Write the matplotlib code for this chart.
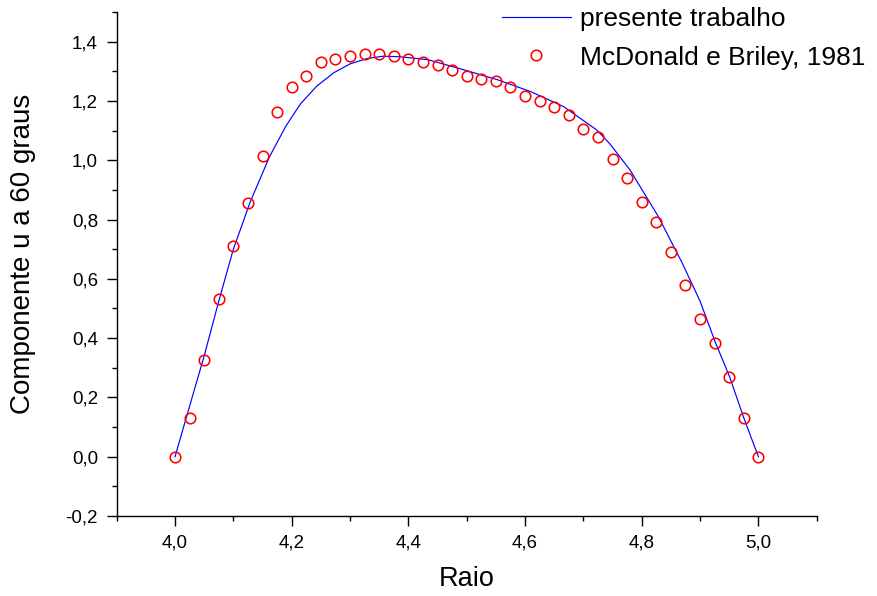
import matplotlib
matplotlib.use("Agg")
import matplotlib.pyplot as plt
from matplotlib.ticker import MultipleLocator, FuncFormatter

plt.rcParams['font.family'] = ['Liberation Sans', 'DejaVu Sans']

# Present work (blue line)
line_x = [4.000, 4.019, 4.050, 4.075, 4.100, 4.129, 4.162, 4.190, 4.215, 4.243,
          4.272, 4.300, 4.329, 4.357, 4.386, 4.434, 4.495, 4.552, 4.609, 4.666,
          4.723, 4.746, 4.780, 4.828, 4.869, 4.900, 4.926, 4.951, 4.975, 5.000]
line_y = [0.000, 0.130, 0.340, 0.525, 0.700, 0.860, 1.012, 1.115, 1.190, 1.250,
          1.295, 1.325, 1.343, 1.351, 1.349, 1.339, 1.305, 1.272, 1.232, 1.181,
          1.102, 1.054, 0.967, 0.812, 0.655, 0.525, 0.387, 0.268, 0.131, 0.000]

# McDonald e Briley, 1981 (red circles)
pts_x = [4.000, 4.025, 4.050, 4.075, 4.100, 4.125, 4.150, 4.175, 4.200, 4.225,
         4.250, 4.275, 4.300, 4.325, 4.350, 4.375, 4.400, 4.425, 4.450, 4.475,
         4.500, 4.525, 4.550, 4.575, 4.600, 4.625, 4.650, 4.675, 4.700, 4.725,
         4.750, 4.775, 4.800, 4.825, 4.850, 4.875, 4.900, 4.925, 4.950, 4.975,
         5.000]
pts_y = [0.000, 0.131, 0.326, 0.531, 0.711, 0.856, 1.015, 1.162, 1.247, 1.284,
         1.331, 1.340, 1.350, 1.360, 1.360, 1.350, 1.341, 1.331, 1.321, 1.303,
         1.284, 1.275, 1.266, 1.247, 1.218, 1.200, 1.181, 1.153, 1.107, 1.080,
         1.004, 0.939, 0.860, 0.792, 0.689, 0.578, 0.466, 0.382, 0.268, 0.131,
         0.000]

fig = plt.figure(figsize=(8.77, 5.96), dpi=100)
ax = fig.add_axes([116.7 / 877, 1 - 516 / 596, 700 / 877, 504 / 596])

ax.plot(line_x, line_y, color='#0000ff', lw=0.85, label='presente trabalho', zorder=2)
ax.plot(pts_x, pts_y, ls='none', marker='o', ms=7.6, mfc='none', mec='#ff0000',
        mew=1.15, label='McDonald e Briley, 1981', zorder=3)

ax.set_xlim(3.9, 5.1)
ax.set_ylim(-0.2, 1.5)
ax.xaxis.set_major_locator(MultipleLocator(0.2))
ax.xaxis.set_minor_locator(MultipleLocator(0.1))
ax.yaxis.set_major_locator(MultipleLocator(0.2))
ax.yaxis.set_minor_locator(MultipleLocator(0.1))

fmt = FuncFormatter(lambda v, p: f"{v:.1f}".replace('.', ',').replace('−', '-'))
ax.xaxis.set_major_formatter(fmt)
ax.yaxis.set_major_formatter(fmt)

for s in ['top', 'right']:
    ax.spines[s].set_visible(False)
for s in ['left', 'bottom']:
    ax.spines[s].set_linewidth(1.0)
    ax.spines[s].set_color('black')

ax.tick_params(which='major', direction='out', length=7.5, width=1.0, labelsize=13.5, pad=6)
ax.tick_params(which='minor', direction='out', length=3.8, width=1.0)

ax.set_xlabel('Raio', fontsize=19.5, labelpad=10)
ax.set_ylabel('Componente u a 60 graus', fontsize=20)
ax.yaxis.set_label_coords(-0.115, 0.52)

ax.legend(loc='upper left', bbox_to_anchor=(502 / 877, 1 - 7 / 596),
          bbox_transform=fig.transFigure, frameon=False, fontsize=19,
          handlelength=2.6, handletextpad=0.34, borderpad=0, borderaxespad=0,
          labelspacing=0.55)

fig.savefig('out.png', dpi=100)
